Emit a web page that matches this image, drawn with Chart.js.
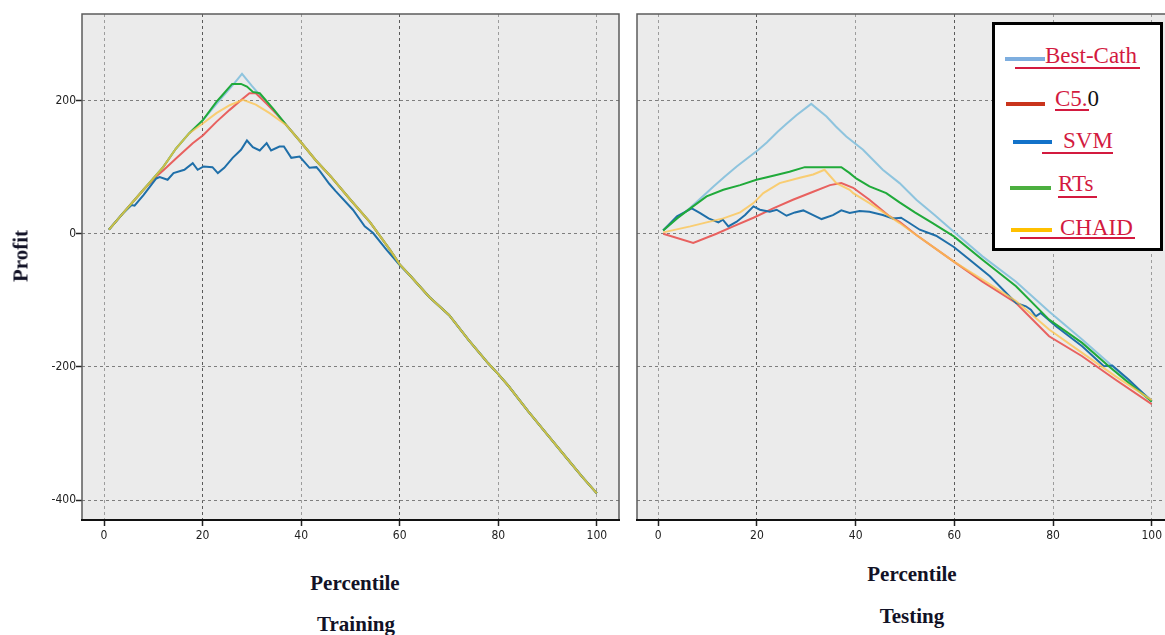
<!DOCTYPE html>
<html>
<head>
<meta charset="utf-8">
<script src="https://cdn.jsdelivr.net/npm/chart.js@4.4.1/dist/chart.umd.min.js"></script>
<style>
  html, body { margin: 0; padding: 0; }
  body { width: 1165px; height: 635px; overflow: hidden; background: #fff; position: relative;
         font-family: 'Liberation Serif', 'Times New Roman', serif; }
  .panel { position: absolute; top: 0; }
  .title { position: absolute; font-weight: bold; font-size: 21px; line-height: 21px; color: #121226;
           white-space: nowrap; transform: translateX(-50%); }
  #profit { position: absolute; left: 21px; top: 256px; font-weight: bold; font-size: 21px; line-height: 21px;
            color: #121226; white-space: nowrap; transform: translate(-50%, -50%) rotate(-90deg); }
  #legend { position: absolute; left: 992px; top: 22px; width: 171px; height: 229px; box-sizing: border-box;
            border: 3px solid #000; background: #fff; }
  .swatch { position: absolute; height: 4px; }
  .lab { position: absolute; font-size: 23px; line-height: 23px; color: #d31a3f; white-space: nowrap; }
  .uline { position: absolute; height: 2px; background: #d31a3f; }
</style>
</head>
<body>
<div class="panel" style="left:0; width:625px; height:545px;"><canvas id="train" width="625" height="545"></canvas></div>
<div class="panel" style="left:630px; width:540px; height:545px;"><canvas id="test" width="540" height="545"></canvas></div>

<div id="profit">Profit</div>
<div class="title" style="left:355px; top:573px;">Percentile</div>
<div class="title" style="left:356px; top:614px;">Training</div>
<div class="title" style="left:912px; top:564px;">Percentile</div>
<div class="title" style="left:912px; top:606px;">Testing</div>

<div id="legend"></div>
<div class="swatch" style="left:1005px; top:57px; width:40px; background:#7eaedf;"></div>
<div class="uline" style="left:1015px; top:67px; width:125px;"></div>
<div class="lab" style="left:1045px; top:44px;">Best-Cath</div>

<div class="swatch" style="left:1006px; top:102px; width:39px; background:#c9341c;"></div>
<div class="uline" style="left:1055px; top:109px; width:34px;"></div>
<div class="lab" style="left:1055px; top:87px;">C5.<span style="color:#111;">0</span></div>

<div class="swatch" style="left:1013px; top:140px; width:39px; background:#1272c9;"></div>
<div class="uline" style="left:1042px; top:152px; width:71px;"></div>
<div class="lab" style="left:1063px; top:129px;">SVM</div>

<div class="swatch" style="left:1010px; top:186px; width:41px; background:#4caf3f;"></div>
<div class="uline" style="left:1058px; top:196px; width:39px;"></div>
<div class="lab" style="left:1058px; top:172px;">RTs</div>

<div class="swatch" style="left:1011px; top:228px; width:41px; background:#ffc000;"></div>
<div class="uline" style="left:1020px; top:237px; width:115px;"></div>
<div class="lab" style="left:1060px; top:216px;">CHAID</div>

<script>
const percentTicks = [0, 20, 40, 60, 80, 100];
const profitTicks = [-400, -200, 0, 200];

// Training: all models share the same curve after percentile 37
const trainTailX = [37, 40, 43, 46, 50, 54, 58, 60, 62, 66, 70, 74, 78, 80, 82, 86, 90, 94, 97, 100];
const trainTailY = [163, 137, 110, 86, 51, 17, -24, -46, -62, -95, -122, -160, -195, -211, -228, -266, -302, -338, -365, -390];

const trainCathX = [1, 4, 8, 12, 14.6, 17.3, 20.1, 24, 26, 28, 30, 32, 34];
const trainCathY = [6, 32, 66, 100, 128, 151, 171, 205, 222, 240, 222, 205, 188];

const trainC50X = [1, 4, 8, 10.6, 12, 14.6, 18, 20.1, 22.8, 25.5, 28.2, 29.5, 30.8, 32.9, 34.9];
const trainC50Y = [6, 32, 66, 86, 95, 113, 136, 148, 168, 186, 203, 211, 211, 196, 181];

const trainRtsX = [1, 4, 8, 12, 14.6, 17.3, 20.1, 22.8, 24, 26, 27.8, 29, 30.2, 31.6, 34.3];
const trainRtsY = [6, 32, 66, 100, 128, 151, 171, 198, 208, 225, 225, 221, 213, 211, 188];

const trainChaidX = [1, 4, 8, 12, 14.6, 17.3, 20.1, 22.8, 25.5, 28.2, 30.8, 33.6];
const trainChaidY = [6, 32, 66, 100, 128, 151, 166, 181, 193, 201, 194, 181];

const trainSvmX = [1, 4, 5.6, 6.2, 8, 10.6, 11.3, 12.9, 14.1, 16.3, 18, 19, 20.2, 22, 23.1, 24.4, 26.1, 27.8, 29,
                   30.2, 31.6, 33, 33.9, 35.6, 36.5, 38, 39.7, 41.7, 43.1, 43.8, 45.7, 47, 50.5, 52.9, 54.6, 57.3, 60];
const trainSvmY = [6, 32, 43, 42, 58, 83, 85, 81, 91, 96, 106, 96, 101, 100, 91, 99, 114, 126, 140,
                   130, 125, 136, 125, 131, 131, 114, 116, 99, 100, 94, 75, 64, 36, 11, 1, -24, -47];

// Testing
const testCathX = [1, 4, 6.5, 9, 11.2, 13.5, 15.9, 18, 20.3, 22, 24.2, 26, 28, 31, 34.1, 36, 38.1, 41.5, 43.5, 45.5,
                   48.9, 52.3, 56, 59.9, 65.7, 72.5, 79.2, 85.9, 91.3, 95, 100];
const testCathY = [5, 24, 39, 56, 71, 86, 101, 113, 126, 137, 153, 165, 178, 195, 176, 161, 146, 126, 111, 96,
                   76, 51, 28, 3, -34, -72, -117, -159, -194, -220, -250];

const testC50X = [1, 7.1, 11.8, 15.2, 19.3, 23.3, 27.3, 31.4, 34.8, 37.1, 39.5, 42.8, 46.9, 48.9, 52.3, 59.9,
                  65.7, 72.5, 79.2, 85.9, 92.6, 100];
const testC50Y = [0, -14, 0, 11, 24, 38, 51, 63, 73, 76, 69, 51, 26, 18, -2, -42, -72, -104, -154, -184, -219, -256];

const testSvmX = [1, 3.8, 6.8, 8.5, 10.2, 12.2, 13.1, 14.2, 15.9, 17.6, 19.3, 20.6, 22.6, 24, 26, 27.7, 29.4, 31.4,
                  33.1, 35.4, 37.1, 38.8, 40.8, 42.8, 45.5, 47.5, 49.2, 50.5, 53, 56.3, 59.9, 63.1, 67.2, 72.5,
                  74.5, 75.5, 76.5, 77.5, 80.6, 85.9, 90.3, 92, 95.3, 100];
const testSvmY = [5, 26, 38, 31, 23, 17, 21, 11, 18, 28, 41, 36, 33, 36, 27, 32, 35, 28,
                  22, 28, 35, 31, 34, 33, 28, 23, 24, 18, 6, -3, -20, -39, -64, -104,
                  -109, -114, -124, -119, -139, -169, -199, -198, -219, -252];

const testRtsX = [1, 3.8, 6.5, 9.8, 13.2, 16.6, 19.9, 23.3, 26.6, 29.7, 33, 37.1, 38.8, 40.1, 42.8, 46.2, 48.9,
                  52, 55.6, 59.9, 65.7, 72.5, 79.2, 85.9, 91.3, 95, 100];
const testRtsY = [5, 23, 38, 56, 66, 73, 81, 87, 93, 100, 100, 100, 91, 83, 71, 61, 47,
                  32, 16, -4, -39, -79, -129, -164, -199, -222, -252];

const testChaidX = [1, 6.5, 9.8, 13.2, 16.6, 19.3, 21.3, 24.6, 28.7, 31.4, 33.7, 36.1, 38.8, 39.5, 42.8, 46.9,
                    48.9, 52.3, 59.9, 65.7, 72.5, 79.2, 85.9, 92.6, 100];
const testChaidY = [2, 11, 17, 23, 32, 46, 61, 76, 84, 89, 96, 76, 66, 61, 46, 26,
                    16, -2, -42, -69, -101, -144, -179, -214, -250];

const COLORS = {
    cath: '#8ec4de',
    c50: '#e8615f',
    svm: '#1f6fa9',
    rts: '#20aa3a',
    chaid: 'rgba(253,196,80,0.78)'
};

function toPoints(xs, ys) {
    return xs.map((x, i) => ({ x: x, y: ys[i] }));
}

const trainSeries = [
    { pts: toPoints(trainCathX.concat(trainTailX), trainCathY.concat(trainTailY)), color: COLORS.cath, order: 5 },
    { pts: toPoints(trainC50X.concat(trainTailX), trainC50Y.concat(trainTailY)), color: COLORS.c50, order: 4 },
    { pts: toPoints(trainSvmX, trainSvmY).concat(toPoints(trainTailX, trainTailY).filter(p => p.x > 60)), color: COLORS.svm, order: 3 },
    { pts: toPoints(trainRtsX.concat(trainTailX), trainRtsY.concat(trainTailY)), color: COLORS.rts, order: 2 },
    { pts: toPoints(trainChaidX.concat(trainTailX), trainChaidY.concat(trainTailY)), color: COLORS.chaid, order: 1 },
];

const testSeries = [
    { pts: toPoints(testCathX, testCathY), color: COLORS.cath, order: 5 },
    { pts: toPoints(testC50X, testC50Y), color: COLORS.c50, order: 4 },
    { pts: toPoints(testSvmX, testSvmY), color: COLORS.svm, order: 3 },
    { pts: toPoints(testRtsX, testRtsY), color: COLORS.rts, order: 2 },
    { pts: toPoints(testChaidX, testChaidY), color: COLORS.chaid, order: 1 },
];

const framePlugin = {
    id: 'frame',
    beforeDraw(chart) {
        const { ctx, chartArea: a } = chart;
        ctx.save();
        ctx.fillStyle = '#ebebeb';
        ctx.fillRect(a.left, a.top, a.right - a.left, a.bottom - a.top);
        ctx.restore();
    },
    afterDraw(chart) {
        const { ctx, chartArea: a } = chart;
        ctx.save();
        ctx.lineWidth = 1.5;
        ctx.strokeStyle = '#5c5c5c';
        ctx.beginPath();
        ctx.moveTo(a.left, a.bottom);
        ctx.lineTo(a.left, a.top);
        ctx.lineTo(a.right, a.top);
        ctx.lineTo(a.right, a.bottom);
        ctx.stroke();
        ctx.lineWidth = 2;
        ctx.strokeStyle = '#111';
        ctx.beginPath();
        ctx.moveTo(a.left - 1, a.bottom);
        ctx.lineTo(a.right + 1, a.bottom);
        ctx.stroke();
        ctx.restore();
    }
};

const tickFont = { family: "'Liberation Sans Narrow', 'Arial Narrow', 'DejaVu Sans Condensed', sans-serif", size: 12 };

function makeChart(id, series, xMin, xMax, padLeft, padRight, yWidth, showY) {
    return new Chart(document.getElementById(id), {
        type: 'line',
        data: {
            datasets: series.map(s => ({
                data: s.pts,
                borderColor: s.color,
                borderWidth: 2,
                pointRadius: 0,
                tension: 0,
                fill: false,
                order: s.order
            }))
        },
        options: {
            responsive: false,
            animation: false,
            events: [],
            layout: { padding: { top: 14, left: padLeft, right: padRight, bottom: 0 } },
            plugins: { legend: { display: false }, tooltip: { enabled: false } },
            scales: {
                x: {
                    type: 'linear',
                    min: xMin,
                    max: xMax,
                    afterBuildTicks: s => { s.ticks = percentTicks.map(v => ({ value: v })); },
                    afterFit: s => { s.height = 25; },
                    border: { display: false, dash: [3, 3] },
                    grid: {
                        color: c => (c.tick && (c.tick.value === 20 || c.tick.value === 60)) ? '#5a5a5a' : '#9c9c9c',
                        lineWidth: 1,
                        tickLength: 6,
                        tickColor: '#222',
                        tickWidth: 1.5,
                        tickBorderDash: []
                    },
                    ticks: { padding: 3, color: '#222', font: tickFont, maxRotation: 0, autoSkip: false }
                },
                y: {
                    type: 'linear',
                    min: -430,
                    max: 330,
                    afterBuildTicks: s => { s.ticks = profitTicks.map(v => ({ value: v })); },
                    afterFit: s => { s.width = yWidth; },
                    border: { display: false, dash: [3, 3] },
                    grid: {
                        color: '#7e7e7e',
                        lineWidth: 1,
                        drawTicks: showY,
                        tickLength: 6,
                        tickColor: '#222',
                        tickWidth: 1.5,
                        tickBorderDash: []
                    },
                    ticks: { display: showY, padding: 0, color: '#222', font: tickFont }
                }
            }
        },
        plugins: [framePlugin]
    });
}

makeChart('train', trainSeries, -4.47, 104.5, 0, 6, 82, true);
makeChart('test', testSeries, -4.3, 103.7, 7, 0, 0, false);
</script>
</body>
</html>
